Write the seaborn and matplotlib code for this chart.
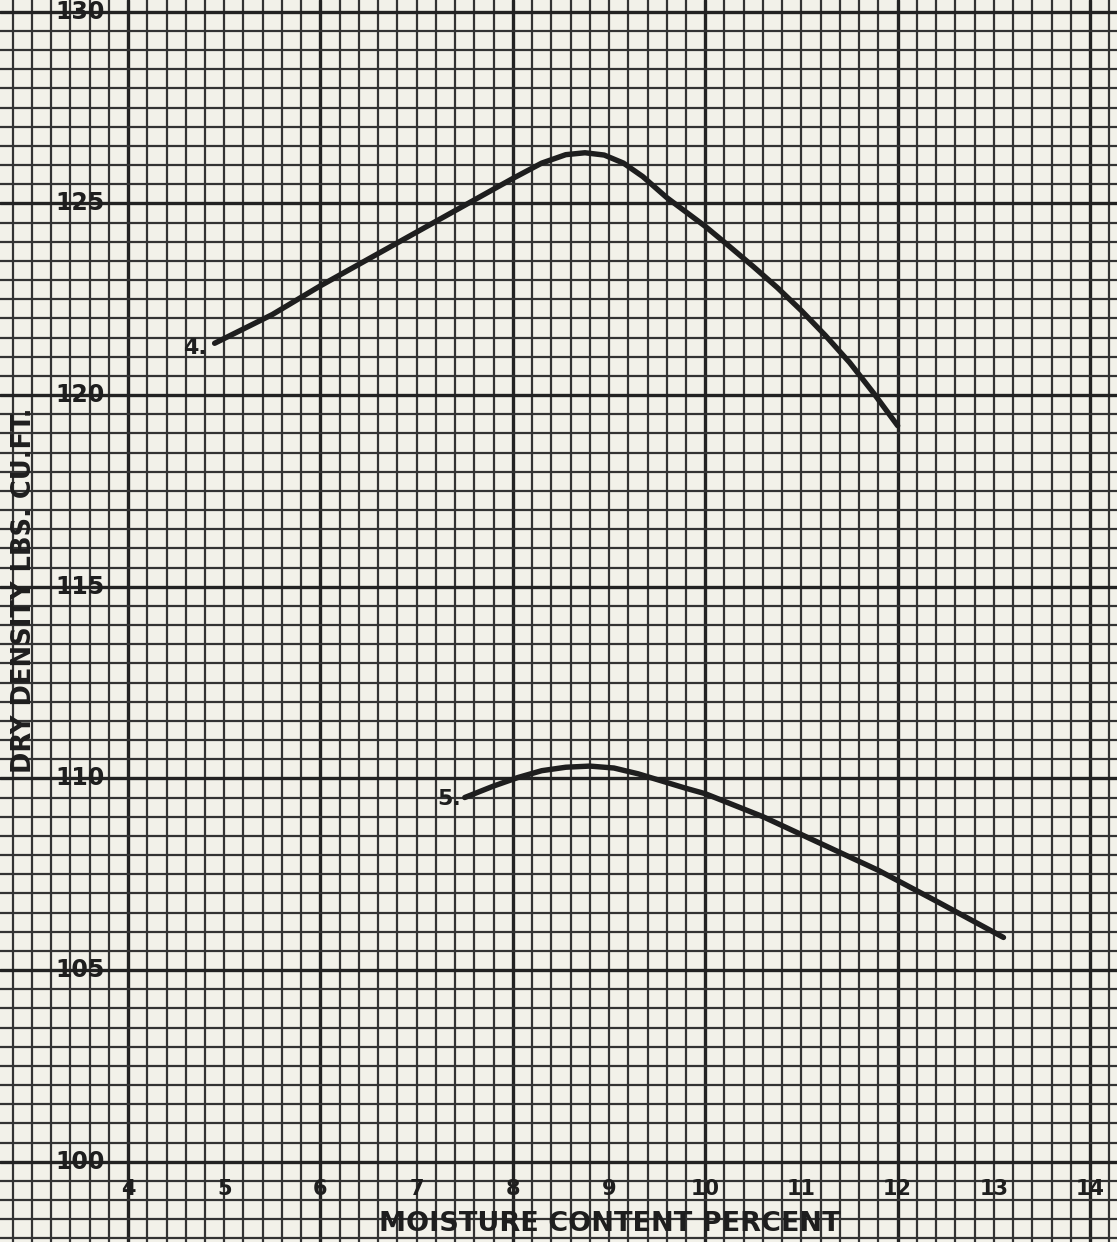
import numpy as np
import pandas as pd
import seaborn as sns
import matplotlib.pyplot as plt

# curve 4
moist_4 = [4.9, 5.5, 6.0, 6.5, 7.0, 7.5, 8.0, 8.3, 8.55, 8.75, 8.95, 9.15, 9.35, 9.6, 10.0, 10.25,
           10.5, 10.75, 11.0, 11.25, 11.5, 11.75, 12.0]
dens_4 = [121.35, 122.1, 122.85, 123.55, 124.25, 124.95, 125.65, 126.05, 126.27, 126.32, 126.26, 126.05,
          125.7, 125.15, 124.4, 123.88, 123.35, 122.8, 122.2, 121.55, 120.85, 120.05, 119.2]

# curve 5
moist_5 = [7.5, 7.8, 8.05, 8.3, 8.55, 8.8, 9.05, 9.3, 9.55, 9.8, 10.0, 10.6, 11.2, 11.8, 12.4, 13.1]
dens_5 = [109.5, 109.8, 110.02, 110.2, 110.29, 110.32, 110.27, 110.12, 109.93, 109.74, 109.6,
          109.0, 108.3, 107.6, 106.8, 105.85]

x_ticks = [4, 5, 6, 7, 8, 9, 10, 11, 12, 13, 14]
y_ticks = [100, 105, 110, 115, 120, 125, 130]

paper = "#f2f1e9"
ink = "#1e1e1e"

sns.set_style("white")
plt.rcParams['font.family'] = ['DejaVu Sans']

fig = plt.figure(figsize=(11.17, 12.42), dpi=100)
fig.patch.set_facecolor(paper)
ax = fig.add_axes([0, 0, 1, 1])
ax.set_facecolor(paper)

ax.set_xlim(2.669, 14.28)
ax.set_ylim(97.905, 130.305)

# graph paper grid
ax.set_xticks(np.arange(4, 15, 2))
ax.set_xticks(np.arange(2.8, 14.3, 0.2), minor=True)
ax.set_yticks(np.arange(100, 131, 5))
ax.set_yticks(np.arange(98, 130.3, 0.5), minor=True)
ax.grid(which="minor", color="#333333", lw=1.6)
ax.grid(which="major", color="#222222", lw=2.4)
ax.tick_params(which="both", length=0, labelbottom=False, labelleft=False)
for s in ax.spines.values():
    s.set_visible(False)

df4 = pd.DataFrame({"moisture": moist_4, "density": dens_4})
df5 = pd.DataFrame({"moisture": moist_5, "density": dens_5})
sns.lineplot(data=df4, x="moisture", y="density", sort=False, color=ink, lw=3.9,
             solid_capstyle="round", solid_joinstyle="round", ax=ax)
sns.lineplot(data=df5, x="moisture", y="density", sort=False, color=ink, lw=3.9,
             solid_capstyle="round", solid_joinstyle="round", ax=ax)
ax.set_xlabel("")
ax.set_ylabel("")

ax.text(4.70, 121.22, "4.", fontsize=16, fontweight="bold", color=ink, ha="center", va="center")
ax.text(7.34, 109.46, "5.", fontsize=16, fontweight="bold", color=ink, ha="center", va="center")

# tick labels drawn on the paper
for v in y_ticks:
    ax.text(3.5, v, str(v), fontsize=17, fontweight="bold", color=ink, ha="center", va="center")
for v in x_ticks:
    ax.text(v, 99.29, str(v), fontsize=15, fontweight="bold", color=ink, ha="center", va="center")

ax.text(9.01, 98.37, "MOISTURE CONTENT PERCENT", fontsize=19.5, fontweight="bold", color=ink,
        ha="center", va="center")
ax.text(2.918, 114.92, "DRY DENSITY LBS. CU.FT.", fontsize=18.5, fontweight="bold", color=ink,
        ha="center", va="center", rotation=90)

fig.savefig("out.png", dpi=100, facecolor=paper)
